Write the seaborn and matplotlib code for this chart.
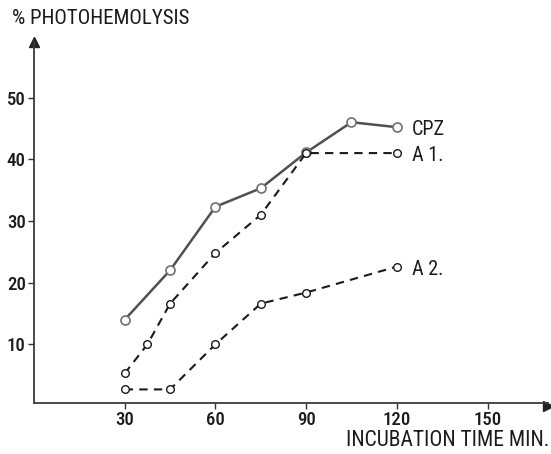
import matplotlib
matplotlib.use("Agg")
import matplotlib.pyplot as plt
import seaborn as sns
import pandas as pd

# data (x = minutes, y = % photohemolysis)
cpz_x = [30, 45, 60, 75, 90, 105, 120]
cpz_y = [14.0, 22.0, 32.3, 35.3, 41.1, 46.0, 45.2]

a1_x = [30, 37.5, 45, 60, 75, 90, 120]
a1_y = [5.3, 10.0, 16.6, 24.8, 31.0, 41.0, 41.0]

a2_x = [30, 45, 60, 75, 90, 120]
a2_y = [2.7, 2.7, 10.0, 16.6, 18.4, 22.6]

series_names = ["CPZ", "A 1.", "A 2."]
x_ticks = [30, 60, 90, 120, 150]
y_ticks = [10, 20, 30, 40, 50]

sns.set_style("ticks")
plt.rcParams["font.family"] = ["Roboto Condensed", "DejaVu Sans"]

fig = plt.figure(figsize=(5.51, 4.54), dpi=100)
ax = fig.add_axes([34 / 551, (454 - 403) / 454, 514 / 551, (403 - 42) / 454])

df_cpz = pd.DataFrame({"x": cpz_x, "y": cpz_y})
df_a1 = pd.DataFrame({"x": a1_x, "y": a1_y})
df_a2 = pd.DataFrame({"x": a2_x, "y": a2_y})

sns.lineplot(data=df_cpz, x="x", y="y", ax=ax, color="#505050", linewidth=1.8,
             marker="o", markersize=6.5, markerfacecolor="white",
             markeredgecolor="#707070", markeredgewidth=1.2)
sns.lineplot(data=df_a1, x="x", y="y", ax=ax, color="#1a1a1a", linewidth=1.5,
             linestyle=(0, (4, 3)), marker="o", markersize=5.5, markerfacecolor="white",
             markeredgecolor="#1a1a1a", markeredgewidth=1.0)
sns.lineplot(data=df_a2, x="x", y="y", ax=ax, color="#1a1a1a", linewidth=1.5,
             linestyle=(0, (4, 3)), marker="o", markersize=5.5, markerfacecolor="white",
             markeredgecolor="#1a1a1a", markeredgewidth=1.0)

# series labels at the end of each curve
for name, xs, ys in zip(series_names, [cpz_x, a1_x, a2_x], [cpz_y, a1_y, a2_y]):
    ax.annotate(name, (xs[-1], ys[-1] - 0.4), xytext=(11, 0), textcoords="offset points",
                va="center", ha="left", fontsize=14.5, color="#1a1a1a")

ax.set_xlim(0, 170)
ax.set_ylim(0.5, 59)
ax.set_xticks(x_ticks)
ax.set_yticks(y_ticks)
ax.tick_params(labelsize=13.5, length=4, width=1, colors="#333333", pad=2)
for lab in ax.get_xticklabels() + ax.get_yticklabels():
    lab.set_color("#1a1a1a")
    lab.set_fontweight("medium")
ax.set_xlabel("")
ax.set_ylabel("")

sns.despine(ax=ax)
for s in ["left", "bottom"]:
    ax.spines[s].set_linewidth(1.3)
    ax.spines[s].set_color("#3a3a3a")

# arrow heads on the axes
ax.plot(1, 0, ">", color="#222222", markersize=7, transform=ax.get_yaxis_transform(), clip_on=False)
ax.plot(0, 1, "^", color="#222222", markersize=7, transform=ax.get_xaxis_transform(), clip_on=False)

fig.text(12 / 551, 1 - 18 / 454, "% PHOTOHEMOLYSIS", fontsize=15, va="center", ha="left", color="#1a1a1a")
fig.text(549 / 551, 1 - 441 / 454, "INCUBATION TIME MIN.", fontsize=15.5, va="center", ha="right", color="#1a1a1a")

fig.savefig("out.png", dpi=100, facecolor="white")
